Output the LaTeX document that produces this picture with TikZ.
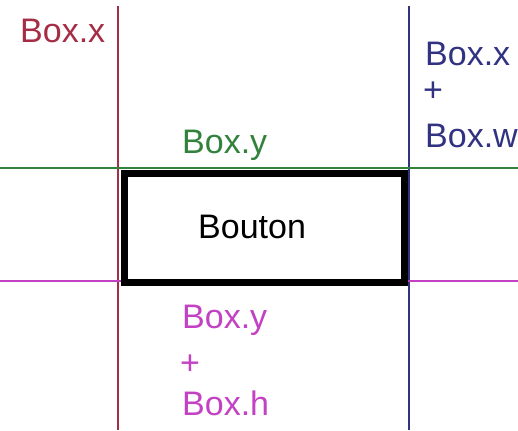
\documentclass[tikz,border=0pt]{standalone}
\usepackage{fontspec}
\setmainfont{Liberation Sans}
\definecolor{cred}{RGB}{165,45,70}
\definecolor{cblue}{RGB}{50,50,130}
\definecolor{cgreen}{RGB}{50,130,60}
\definecolor{cmag}{RGB}{195,65,195}
\begin{document}
\begin{tikzpicture}[x=1bp,y=-1bp,
  lbl/.style={anchor=base west,inner sep=0pt,font=\fontsize{34bp}{40bp}\selectfont},
  guide/.style={line width=1.6bp}]
\useasboundingbox[fill=white] (0,0) rectangle (518,430);
% guide coordinates
\coordinate (rt) at (118,6);
\coordinate (rb) at (118,430);
\coordinate (bt) at (409,6);
\coordinate (bb) at (409,430);
\coordinate (gl) at (0,168);
\coordinate (gr) at (518,168);
\coordinate (ml) at (0,281);
\coordinate (mr) at (518,281);
\draw[guide,cred] (rt) -- (rb);
\draw[guide,cblue] (bt) -- (bb);
\draw[guide,cgreen] (gl) -- (gr);
\draw[guide,cmag] (ml) -- (mr);
% box
\node[draw=black,line width=7bp,fill=white,minimum width=280bp,minimum height=109bp,anchor=north west,inner sep=0pt,outer sep=0pt] (box) at (124,173) {};
\node[lbl] (bouton) at (198,238) {Bouton};
% labels
\node[lbl,text=cred] (bx) at (20,42) {Box.x};
\node[lbl,text=cblue] (bx2) at (425,65) {Box.x};
\node[lbl,text=cblue] (bplus) at (423,101) {+};
\node[lbl,text=cblue] (bw) at (425,147) {Box.w};
\node[lbl,text=cgreen] (by) at (182,153) {Box.y};
\node[lbl,text=cmag] (by2) at (182,328) {Box.y};
\node[lbl,text=cmag] (mplus) at (180,374) {+};
\node[lbl,text=cmag] (bh) at (182,415) {Box.h};
\end{tikzpicture}
\end{document}
